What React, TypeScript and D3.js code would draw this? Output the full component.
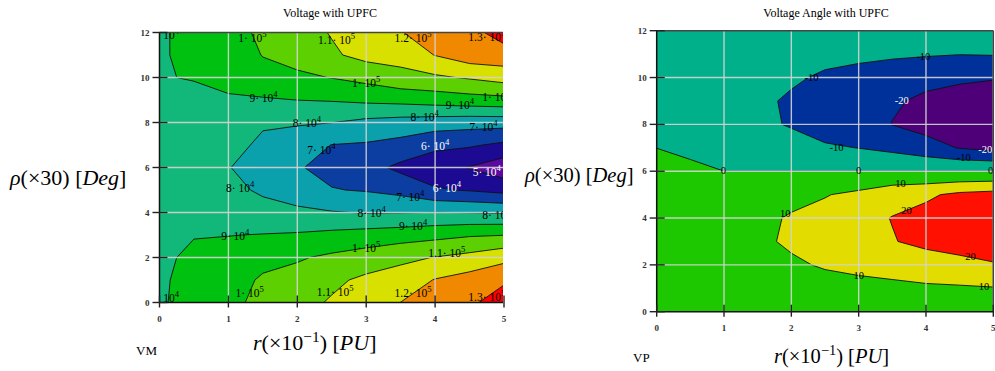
import React from 'react';
import * as d3 from 'd3';

// grid positions of the sampled values
const rValues = [0, 0.5, 1, 1.5, 2, 2.5, 3, 3.5, 4, 4.5, 5];
const rhoValues = [0, 1, 2, 3, 4, 5, 6, 7, 8, 9, 10, 11, 12];

// VM (voltage magnitude) – one row per rho, one column per r
const vmGrid: number[][] = [
  [89000, 93000, 97800, 102300, 106700, 111000, 115600, 120100, 124000, 127000, 138000],
  [89100, 92000, 96000, 101200, 103500, 108000, 112000, 114000, 120500, 124000, 127700],
  [89100, 90900, 93500, 97200, 99000, 101800, 104500, 108000, 110300, 113000, 117300],
  [88500, 89800, 89800, 90300, 91000, 92500, 94000, 95300, 97100, 99000, 99800],
  [88000, 88000, 86000, 84000, 82000, 80600, 79500, 79700, 80200, 79800, 79200],
  [87500, 87000, 83000, 78300, 75000, 70450, 69300, 66800, 61000, 59200, 56800],
  [87000, 86500, 80300, 76500, 70800, 67000, 63450, 57700, 54000, 49500, 43700],
  [87500, 87000, 83000, 78300, 75000, 69800, 69000, 66900, 62300, 61200, 58000],
  [88000, 88000, 86500, 81000, 80900, 80100, 77500, 76000, 74900, 73950, 74000],
  [88500, 89000, 89000, 89000, 90050, 90640, 92000, 93000, 94500, 96000, 97000],
  [89800, 90200, 92500, 97000, 98000, 100300, 103000, 107000, 108500, 111000, 114000],
  [89360, 91500, 95000, 100300, 104000, 108600, 113000, 113500, 120300, 125500, 126000],
  [88930, 92500, 97000, 101500, 106000, 110600, 115100, 119600, 124000, 127000, 134000],
];
const vmLevels = [50000, 60000, 70000, 80000, 90000, 100000, 110000, 120000, 130000];
const vmColors = ['#5a0a9e', '#1c0a92', '#0b3ea0', '#0aa0ac', '#12b87a', '#00c010', '#5cd000', '#d8e000', '#f08800', '#ff0000'];

// VP (voltage angle)
const vpGrid: number[][] = [
  [1, 0.5, 1, 1.5, 2, 2, 2.5, 2.5, 3, 3, 3],
  [1.5, 1.5, 3, 4, 5, 6, 7, 7, 8.7, 9, 9.5],
  [2, 2.5, 4.5, 6.5, 8.5, 11, 12.5, 15, 15, 16.5, 19],
  [2.5, 3, 5.5, 8.1, 11.5, 14, 17.5, 19.5, 22.5, 25, 27],
  [3, 3, 5.5, 7.9, 10.8, 13, 17, 20.3, 23, 27, 28],
  [4, 2.8, 3.5, 5, 7.5, 9.5, 12.2, 16.7, 18.5, 22, 23.5],
  [5, 2.5, 0, 0, 0, 0, 0, 0, 0, 0, 0],
  [-0.1, -2.5, -2.5, -4, -6, -8.5, -10.2, -12.5, -16.1, -20.5, -23],
  [-0.5, -2.5, -4.5, -7.9, -10.8, -15.5, -15, -20.2, -23.5, -27, -30],
  [-0.8, -2.5, -5, -7.8, -11.5, -14, -16, -19, -21.5, -25, -28],
  [-1, -2, -4, -6, -8.5, -11.5, -13, -14, -17.8, -18, -19],
  [-1, -1.5, -3, -4, -6, -7, -8, -8.9, -9.1, -9.8, -9.5],
  [-1, -1, -1.5, -2, -3, -3.5, -4, -4, -4, -4, -4],
];
const vpLevels = [-20, -10, 0, 10, 20];
const vpColors = ['#4e0078', '#00309a', '#00b08a', '#1ec800', '#e2dc00', '#ff1000'];

const xTickValues = [0, 1, 2, 3, 4, 5];
const yTickValues = [0, 2, 4, 6, 8, 10, 12];

type Label = { t: string; e?: string; x: number; y: number; light?: boolean };

const vmLabels: Label[] = [
  { t: '9', e: '4', x: 0.08, y: 11.9 },
  { t: '1', e: '5', x: 1.35, y: 11.74 },
  { t: '1.1', e: '5', x: 2.57, y: 11.67 },
  { t: '1.2', e: '5', x: 3.68, y: 11.74 },
  { t: '1.3', e: '5', x: 4.75, y: 11.81 },
  { t: '1', e: '5', x: 3.0, y: 9.74 },
  { t: '9', e: '4', x: 1.51, y: 9.07 },
  { t: '1', e: '5', x: 4.89, y: 9.12 },
  { t: '9', e: '4', x: 4.36, y: 8.78 },
  { t: '8', e: '4', x: 2.14, y: 7.96 },
  { t: '8', e: '4', x: 3.85, y: 8.26 },
  { t: '7', e: '4', x: 4.7, y: 7.79 },
  { t: '7', e: '4', x: 2.35, y: 6.78 },
  { t: '6', e: '4', x: 4.0, y: 6.96, light: true },
  { t: '5', e: '4', x: 4.75, y: 5.81, light: true },
  { t: '6', e: '4', x: 4.17, y: 5.07, light: true },
  { t: '7', e: '4', x: 3.64, y: 4.7 },
  { t: '8', e: '4', x: 1.17, y: 5.07 },
  { t: '8', e: '4', x: 3.08, y: 3.96 },
  { t: '8', e: '4', x: 4.89, y: 3.89 },
  { t: '9', e: '4', x: 1.1, y: 2.96 },
  { t: '9', e: '4', x: 3.68, y: 3.4 },
  { t: '1', e: '5', x: 3.0, y: 2.41 },
  { t: '1.1', e: '5', x: 4.17, y: 2.19 },
  { t: '9', e: '4', x: 0.08, y: 0.19 },
  { t: '1', e: '5', x: 1.31, y: 0.41 },
  { t: '1.1', e: '5', x: 2.55, y: 0.48 },
  { t: '1.2', e: '5', x: 3.68, y: 0.41 },
  { t: '1.3', e: '5', x: 4.75, y: 0.26 },
];

const vpLabels: Label[] = [
  { t: '-10', x: 3.96, y: 10.9 },
  { t: '-10', x: 2.3, y: 10.04 },
  { t: '-20', x: 3.64, y: 9.05, light: true },
  { t: '-10', x: 2.67, y: 7.05 },
  { t: '-20', x: 4.88, y: 6.94, light: true },
  { t: '-10', x: 4.56, y: 6.62 },
  { t: '0', x: 0.99, y: 6.03 },
  { t: '0', x: 3.0, y: 6.03 },
  { t: '0', x: 4.96, y: 6.03 },
  { t: '10', x: 3.62, y: 5.49 },
  { t: '10', x: 1.91, y: 4.2 },
  { t: '20', x: 3.71, y: 4.35 },
  { t: '20', x: 4.66, y: 2.38 },
  { t: '10', x: 3.0, y: 1.57 },
  { t: '10', x: 4.86, y: 1.1 },
];

const SERIF = "'Liberation Serif', 'Times New Roman', Times, serif";

type PanelProps = {
  id: string;
  grid: number[][];
  levels: number[];
  colors: string[];
  labels: Label[];
  left: number;
  right: number;
  bottom: number;
  top: number;
  clipRight: number;
  labelSize: number;
  tickLabelOffset: number;
  rightBorder: boolean;
};

function ContourPanel(p: PanelProps) {
  const nx = p.grid[0].length;
  const ny = p.grid.length;
  const xs = d3.scaleLinear().domain([0, 5]).range([p.left, p.right]);
  const ys = d3.scaleLinear().domain([0, 12]).range([p.bottom, p.top]);
  const ix = d3.scaleLinear().domain([0, rValues.length - 1]).range([rValues[0], rValues[rValues.length - 1]]);
  const iy = d3.scaleLinear().domain([0, rhoValues.length - 1]).range([rhoValues[0], rhoValues[rhoValues.length - 1]]);
  const proj = d3.geoTransform({
    point: function (this: any, x: number, y: number) {
      this.stream.point(xs(ix(x - 0.5)), ys(iy(y - 0.5)));
    },
  });
  const path = d3.geoPath(proj);
  const contours = d3.contours().size([nx, ny]).thresholds(p.levels)(p.grid.flat());
  const clipId = p.id + '-clip';
  const w = p.clipRight - p.left;
  const h = p.bottom - p.top;

  return (
    <g>
      <defs>
        <clipPath id={clipId}>
          <rect x={p.left} y={p.top} width={w} height={h} />
        </clipPath>
      </defs>
      <g clipPath={`url(#${clipId})`}>
        <rect x={p.left} y={p.top} width={w} height={h} fill={p.colors[0]} />
        {contours.map((c, i) => (
          <path key={'f' + i} d={path(c as any) || ''} fill={p.colors[i + 1]} stroke="none" />
        ))}
        {contours.map((c, i) => (
          <path key={'s' + i} d={path(c as any) || ''} fill="none" stroke="#111" strokeWidth={0.9} />
        ))}
        {xTickValues.filter((v) => v > 0).map((v) => (
          <line key={'gx' + v} x1={xs(v)} x2={xs(v)} y1={p.top} y2={p.bottom} stroke="#d4d4d4" strokeWidth={1.4} opacity={0.9} />
        ))}
        {yTickValues.filter((v) => v > 0 && v < 12).map((v) => (
          <line key={'gy' + v} x1={p.left} x2={p.clipRight} y1={ys(v)} y2={ys(v)} stroke="#d4d4d4" strokeWidth={1.4} opacity={0.9} />
        ))}
        {p.labels.map((l, i) => (
          <text key={'l' + i} x={xs(l.x)} y={ys(l.y) + 4} textAnchor="middle" fontFamily={SERIF}
            fontSize={p.labelSize} fill={l.light ? '#ffffff' : '#000000'}>
            {l.e ? (
              <>
                <tspan>{l.t + '\u00B7 10'}</tspan>
                <tspan dy={-5} fontSize={p.labelSize * 0.75}>{l.e}</tspan>
              </>
            ) : (
              l.t
            )}
          </text>
        ))}
      </g>
      {/* frame */}
      <line x1={p.left} x2={p.clipRight} y1={p.top} y2={p.top} stroke="#444" strokeWidth={1.5} />
      {p.rightBorder && <line x1={p.right} x2={p.right} y1={p.top} y2={p.bottom} stroke="#444" strokeWidth={1.5} />}
      <line x1={p.left} x2={p.left} y1={p.top} y2={p.bottom} stroke="#111" strokeWidth={1.5} />
      <line x1={p.left} x2={p.clipRight} y1={p.bottom} y2={p.bottom} stroke="#111" strokeWidth={1.5} />
      {yTickValues.map((v) => (
        <g key={'yt' + v}>
          <line x1={p.left - 7} x2={p.left + 8} y1={ys(v)} y2={ys(v)} stroke="#222" strokeWidth={1.4} />
          <text x={p.left - 10} y={ys(v) + 3} textAnchor="end" fontFamily={SERIF} fontSize={9} fontWeight="bold" fill="#333">{v}</text>
        </g>
      ))}
      {xTickValues.map((v) => (
        <g key={'xt' + v}>
          <line x1={xs(v)} x2={xs(v)} y1={p.bottom - 7} y2={p.bottom + 5} stroke="#222" strokeWidth={1.4} />
          <text x={xs(v)} y={p.bottom + p.tickLabelOffset} textAnchor="middle" fontFamily={SERIF} fontSize={9} fontWeight="bold" fill="#333">{v}</text>
        </g>
      ))}
    </g>
  );
}

function XTitle({ x, y, size }: { x: number; y: number; size: number }) {
  return (
    <text x={x} y={y} fontFamily={SERIF} fontSize={size} fill="#000">
      <tspan fontStyle="italic">r</tspan>
      <tspan>(×10</tspan>
      <tspan dy={-size * 0.38} fontSize={size * 0.7}>−1</tspan>
      <tspan dy={size * 0.38}>)</tspan>
      <tspan> [</tspan>
      <tspan fontStyle="italic">PU</tspan>
      <tspan>]</tspan>
    </text>
  );
}

function YTitle({ x, y, size }: { x: number; y: number; size: number }) {
  return (
    <text x={x} y={y} fontFamily={SERIF} fontSize={size} fill="#000">
      <tspan fontStyle="italic">ρ</tspan>
      <tspan>(×30)</tspan>
      <tspan> [</tspan>
      <tspan fontStyle="italic">Deg</tspan>
      <tspan>]</tspan>
    </text>
  );
}

export default function App() {
  return (
    <svg width={995} height={371} style={{ position: 'absolute', left: 0, top: 0, background: '#fff' }}>
      <rect x={0} y={0} width={995} height={371} fill="#fff" />
      <text x={330} y={17} textAnchor="middle" fontFamily={SERIF} fontSize={12} fill="#000">Voltage with UPFC</text>
      <text x={826} y={17} textAnchor="middle" fontFamily={SERIF} fontSize={12} fill="#000">Voltage Angle with UPFC</text>
      <ContourPanel id="vm" grid={vmGrid} levels={vmLevels} colors={vmColors} labels={vmLabels}
        left={159.5} right={504} bottom={302.5} top={32.5} clipRight={503} labelSize={11.5}
        tickLabelOffset={19} rightBorder={false} />
      <ContourPanel id="vp" grid={vpGrid} levels={vpLevels} colors={vpColors} labels={vpLabels}
        left={656.7} right={993.3} bottom={311.7} top={30.7} clipRight={993.3} labelSize={10.5}
        tickLabelOffset={19} rightBorder={true} />
      <YTitle x={10} y={185} size={22} />
      <YTitle x={525} y={182} size={20.5} />
      <XTitle x={253} y={350} size={22} />
      <XTitle x={774} y={363} size={20.5} />
      <text x={136} y={355} fontFamily={SERIF} fontSize={13} fill="#000">VM</text>
      <text x={633} y={362} fontFamily={SERIF} fontSize={13} fill="#000">VP</text>
    </svg>
  );
}
